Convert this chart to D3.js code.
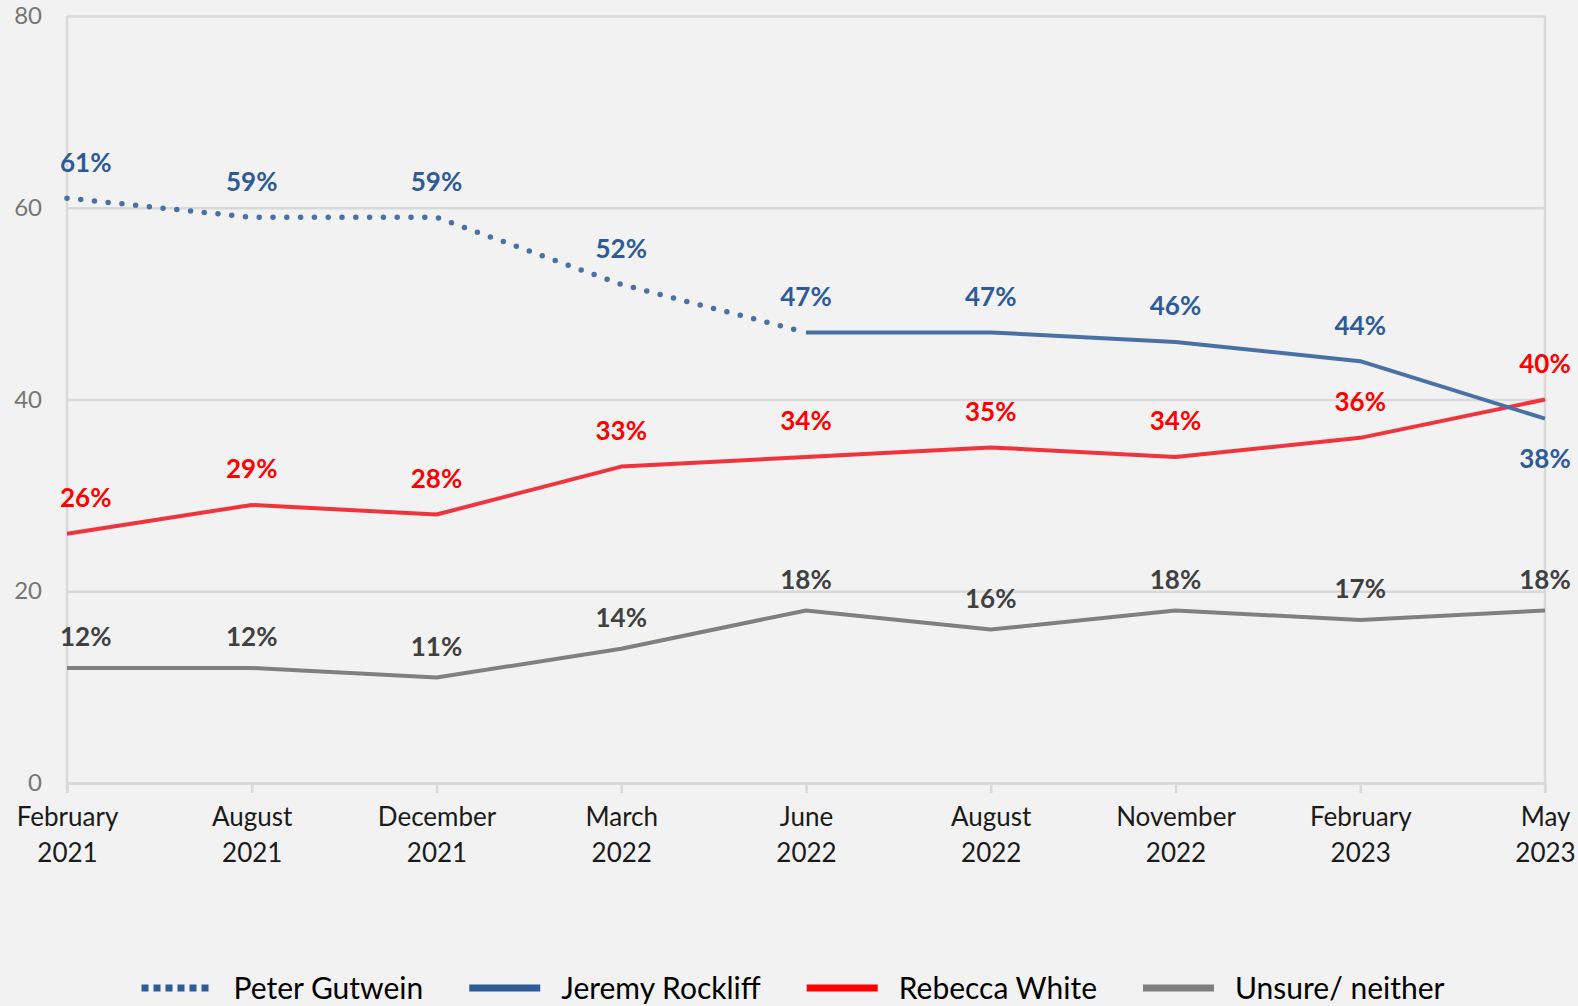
<!DOCTYPE html>
<html>
<head>
<meta charset="utf-8">
<script src="https://cdn.jsdelivr.net/npm/d3@7"></script>
<style>
  body { margin: 0; background: #f2f2f2; }
  svg { display: block; font-family: Lato, "Open Sans", sans-serif; }
</style>
</head>
<body>
<script>
// chart values
var categories = ["February 2021", "August 2021", "December 2021", "March 2022", "June 2022",
                  "August 2022", "November 2022", "February 2023", "May 2023"];
var gutwein  = [61, 59, 59, 52, 47, null, null, null, null];
var rockliff = [null, null, null, null, 47, 47, 46, 44, 38];
var white    = [26, 29, 28, 33, 34, 35, 34, 36, 40];
var unsure   = [12, 12, 11, 14, 18, 16, 18, 17, 18];
var yTicks = [0, 20, 40, 60, 80];
var seriesNames = ["Peter Gutwein", "Jeremy Rockliff", "Rebecca White", "Unsure/ neither"];

function drawChart() {

var svgWidth = 1578;
var svgHeight = 1006;
var plotLeft = 67, plotRight = 1545, plotTop = 16, plotBottom = 783;

var svg = d3.select("body")
    .append("svg")
    .attr("width", svgWidth)
    .attr("height", svgHeight);

var xScale = d3.scalePoint()
    .domain(categories)
    .range([plotLeft, plotRight]);

var yScale = d3.scaleLinear()
    .domain([0, 80])
    .range([plotBottom, plotTop]);

// gridlines + y labels
var yAxis = svg.append("g")
    .attr("transform", `translate(${plotLeft},0)`)
    .call(d3.axisLeft(yScale).tickValues(yTicks).tickSize(-(plotRight - plotLeft)).tickPadding(25));
yAxis.select(".domain").remove();
yAxis.selectAll(".tick line").attr("stroke", "#d9d9d9").attr("stroke-width", 2.5);
yAxis.selectAll(".tick text")
    .attr("fill", "#767676")
    .attr("font-size", 24)
    .attr("font-family", "Lato, sans-serif");

// vertical frame lines
[plotLeft, plotRight].forEach(function (x) {
    svg.append("line")
        .attr("x1", x).attr("x2", x)
        .attr("y1", plotTop).attr("y2", plotBottom + 10)
        .attr("stroke", "#d9d9d9").attr("stroke-width", 2.5);
});

// x axis
var xAxis = svg.append("g")
    .attr("transform", `translate(0,${plotBottom})`)
    .call(d3.axisBottom(xScale).tickSize(10).tickSizeOuter(0).tickFormat(""));
xAxis.select(".domain").attr("stroke", "#d9d9d9").attr("stroke-width", 2.5);
xAxis.selectAll(".tick line").attr("stroke", "#d9d9d9").attr("stroke-width", 2.5);

xAxis.selectAll(".tick").append("text")
    .attr("fill", "#1a1a1a")
    .attr("font-size", 26)
    .attr("font-family", "Lato, sans-serif")
    .attr("text-anchor", "middle")
    .each(function (d) {
        var parts = d.split(" ");
        var t = d3.select(this);
        t.append("tspan").attr("x", 0).attr("y", 43).text(parts[0]);
        t.append("tspan").attr("x", 0).attr("y", 79).text(parts[1]);
    });

function toPoints(values) {
    return values.map(function (v, i) { return { cat: categories[i], v: v, i: i }; });
}

var line = d3.line()
    .defined(d => d.v !== null)
    .x(d => xScale(d.cat))
    .y(d => yScale(d.v));

var series = [
    { values: unsure, stroke: "#808080", label: "#404040", dash: null, width: 4, dy: -31 },
    { values: white, stroke: "#f0343d", label: "#ff0000", dash: null, width: 4, dy: -36 },
    { values: rockliff, stroke: "#4a71a5", label: "#2e5b96", dash: null, width: 4, dy: -36 },
    { values: gutwein, stroke: "#4a71a5", label: "#2e5b96", dash: "0 13.8", width: 5.5, dy: -36 }
];

series.forEach(function (s) {
    svg.append("path")
        .datum(toPoints(s.values))
        .attr("fill", "none")
        .attr("stroke", s.stroke)
        .attr("stroke-width", s.width)
        .attr("stroke-linecap", s.dash ? "round" : "butt")
        .attr("stroke-linejoin", "round")
        .attr("stroke-dasharray", s.dash)
        .attr("d", line);
});

// data labels
series.forEach(function (s) {
    var pts = toPoints(s.values).filter(function (d) {
        if (d.v === null) return false;
        // Gutwein and Rockliff share the June 2022 point: label it once
        if (s.values === gutwein && rockliff[d.i] !== null) return false;
        return true;
    });
    svg.selectAll(null)
        .data(pts)
        .enter()
        .append("text")
        .attr("x", d => d.i === 0 ? xScale(d.cat) - 7 : xScale(d.cat))
        .attr("y", function (d) {
            // blue label goes below when the line falls under Rebecca White
            var below = s.values === rockliff && d.v < white[d.i];
            return yScale(d.v) + (below ? 40 : s.dy);
        })
        .attr("dy", "0.36em")
        .attr("text-anchor", d => d.i === 0 ? "start" : "middle")
        .attr("font-size", 26)
        .attr("font-weight", "bold")
        .attr("fill", s.label)
        .text(d => d.v + "%");
});

// legend
var legendItems = [
    { name: seriesNames[0], color: "#2e5c98", dash: "7 5" },
    { name: seriesNames[1], color: "#2e5c98", dash: null },
    { name: seriesNames[2], color: "#ff0000", dash: null },
    { name: seriesNames[3], color: "#808080", dash: null }
];
var legend = svg.append("g");
var lx = 0;
var itemGap = 46;
legendItems.forEach(function (item) {
    var g = legend.append("g").attr("transform", `translate(${lx},0)`);
    g.append("line")
        .attr("x1", 0).attr("x2", 71)
        .attr("y1", 0).attr("y2", 0)
        .attr("stroke", item.color)
        .attr("stroke-width", 7)
        .attr("stroke-dasharray", item.dash);
    var t = g.append("text")
        .attr("x", 92)
        .attr("y", 0)
        .attr("dy", "0.36em")
        .attr("font-size", 30)
        .attr("fill", "#000")
        .text(item.name);
    lx += 92 + t.node().getComputedTextLength() + itemGap;
});
var legendWidth = lx - itemGap;
legend.attr("transform", `translate(${793 - legendWidth / 2},988)`);

}

drawChart();
</script>
</body>
</html>
